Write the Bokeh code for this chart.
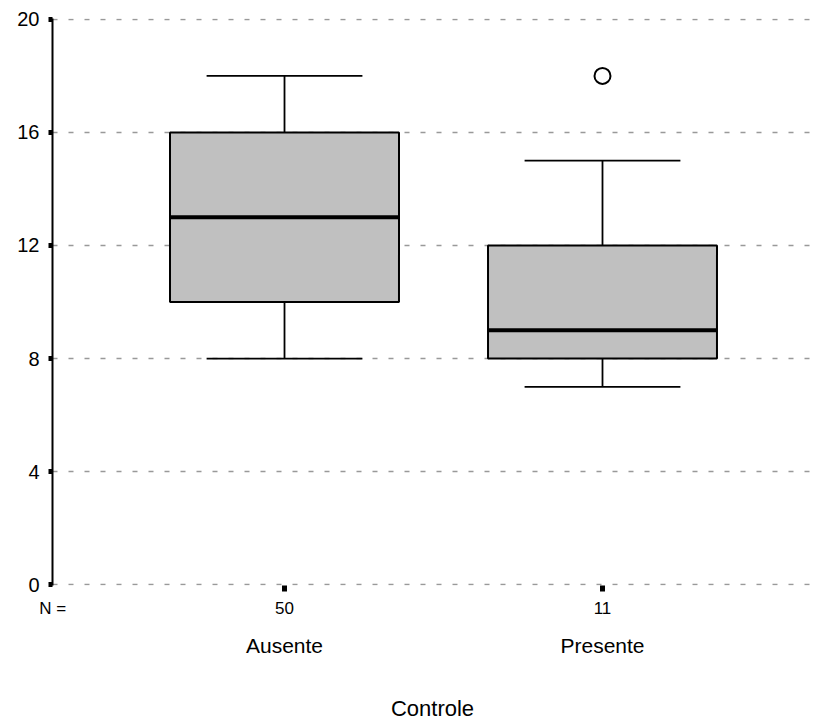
from bokeh.plotting import figure
from bokeh.models import Range1d, LinearAxis, FixedTicker
from bokeh.embed import file_html
from bokeh.resources import INLINE

# data
categories = ["Ausente", "Presente"]
counts = ["50", "11"]
xpos = [1, 2]
lower = [8, 7]
q1 = [10, 8]
median = [13, 9]
q3 = [16, 12]
upper = [18, 15]
outlier_x = [2]
outlier_y = [18]
yticks = [0, 4, 8, 12, 16, 20]

FONT = "Liberation Sans"
box_w = 0.72
cap_w = 0.49
X0, X1 = 0.2704, 2.6604

p = figure(width=818, height=724, output_backend="svg", toolbar_location=None,
           x_range=Range1d(X0, X1), y_range=Range1d(-0.03, 20.03),
           min_border_left=52, min_border_top=18, min_border_right=6,
           min_border_bottom=139, x_axis_location=None)
p.outline_line_color = None
p.background_fill_color = "white"
p.border_fill_color = "white"
p.xgrid.visible = False

# y axis
p.yaxis.ticker = FixedTicker(ticks=yticks)
p.yaxis.axis_line_width = 2
p.yaxis.axis_line_color = "black"
p.yaxis.major_tick_in = 0
p.yaxis.major_tick_out = 4
p.yaxis.major_tick_line_width = 5
p.yaxis.major_tick_line_color = "black"
p.yaxis.minor_tick_line_color = None
p.yaxis.major_label_standoff = 9
p.yaxis.major_label_text_font = FONT
p.yaxis.major_label_text_font_size = "20px"
p.yaxis.major_label_text_color = "black"

p.ygrid.ticker = FixedTicker(ticks=yticks)
p.ygrid.grid_line_color = "#999999"
p.ygrid.grid_line_dash = "5 11"
p.ygrid.grid_line_width = 1.5

# x axis: tick squares only
ax0 = LinearAxis(ticker=FixedTicker(ticks=xpos),
                 major_label_overrides={x: "" for x in xpos})
ax0.axis_line_color = None
ax0.major_tick_in = 0
ax0.major_tick_out = 6
ax0.major_tick_line_width = 5
ax0.major_tick_line_color = "black"
ax0.minor_tick_line_color = None
ax0.major_label_standoff = 0
ax0.major_label_text_font_size = "1px"
p.add_layout(ax0, "below")

# x axis: counts
nticks = [X0 + 0.0005] + xpos
ax1 = LinearAxis(ticker=FixedTicker(ticks=nticks),
                 major_label_overrides=dict(zip(nticks, ["N ="] + counts)))
ax1.axis_line_color = None
ax1.major_tick_line_color = None
ax1.minor_tick_line_color = None
ax1.major_tick_in = 0
ax1.major_tick_out = 0
ax1.major_label_standoff = 7
ax1.major_label_text_font = FONT
ax1.major_label_text_font_size = "17px"
ax1.major_label_text_color = "black"
p.add_layout(ax1, "below")

# x axis: categories
ax2 = LinearAxis(ticker=FixedTicker(ticks=xpos),
                 major_label_overrides=dict(zip(xpos, categories)))
ax2.axis_line_color = None
ax2.major_tick_line_color = None
ax2.minor_tick_line_color = None
ax2.major_tick_in = 0
ax2.major_tick_out = 0
ax2.major_label_standoff = 13
ax2.major_label_text_font = FONT
ax2.major_label_text_font_size = "21px"
ax2.major_label_text_color = "black"
ax2.axis_label = "Controle"
ax2.axis_label_text_font = FONT
ax2.axis_label_text_font_size = "22px"
ax2.axis_label_text_font_style = "normal"
ax2.axis_label_text_color = "black"
ax2.axis_label_standoff = 36
p.add_layout(ax2, "below")

# whiskers
p.segment(x0=xpos, y0=q3, x1=xpos, y1=upper, line_color="black", line_width=1.8)
p.segment(x0=xpos, y0=q1, x1=xpos, y1=lower, line_color="black", line_width=1.8)
capx0 = [x - cap_w / 2 for x in xpos]
capx1 = [x + cap_w / 2 for x in xpos]
p.segment(x0=capx0, y0=upper, x1=capx1, y1=upper, line_color="black", line_width=1.8)
p.segment(x0=capx0, y0=lower, x1=capx1, y1=lower, line_color="black", line_width=1.8)

# boxes
p.vbar(x=xpos, width=box_w, top=q3, bottom=q1, fill_color="#c0c0c0",
       line_color="black", line_width=2)
medx0 = [x - box_w / 2 for x in xpos]
medx1 = [x + box_w / 2 for x in xpos]
p.segment(x0=medx0, y0=median, x1=medx1, y1=median, line_color="black", line_width=4)

# outliers
p.scatter(outlier_x, outlier_y, marker="circle", size=16, fill_color="white",
          line_color="black", line_width=2)

open("out.html", "w").write(file_html(p, INLINE))
